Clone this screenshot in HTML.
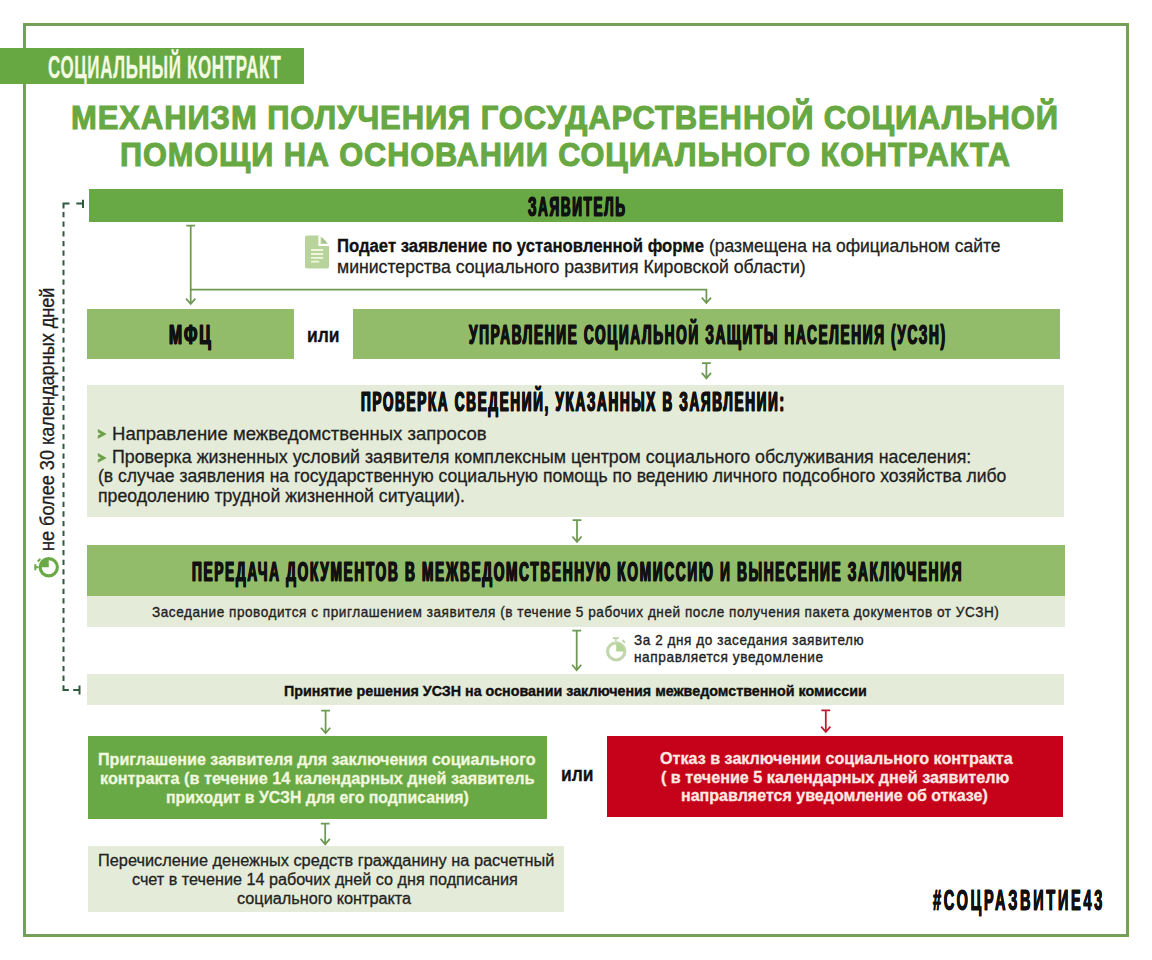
<!DOCTYPE html>
<html><head><meta charset="utf-8"><style>
html,body{margin:0;padding:0;background:#fff;}
body{width:1152px;height:960px;position:relative;overflow:hidden;font-family:"Liberation Sans",sans-serif;}
.t{position:absolute;white-space:nowrap;transform-origin:0 0;}
.b{position:absolute;}
.ov{position:absolute;left:0;top:0;}
#frame{position:absolute;left:23px;top:23px;width:1106px;height:914px;box-sizing:border-box;border:3px solid #74a05c;}
#lbl{position:absolute;left:0;top:48px;width:304px;height:35.5px;background:#67a843;}
#vert{position:absolute;white-space:nowrap;font-size:19.5px;line-height:19.5px;color:#1e1e1e;transform-origin:0 0;-webkit-text-stroke:0.3px #1e1e1e;}
</style></head><body>
<div id="frame"></div>
<div id="lbl"></div>
<div class="b" style="left:89px;top:189px;width:973.5px;height:32.69999999999999px;background:#69a945"></div>
<div class="b" style="left:87px;top:308.6px;width:207px;height:50.099999999999966px;background:#92bc6a"></div>
<div class="b" style="left:352.8px;top:308.6px;width:707.2px;height:50.099999999999966px;background:#92bc6a"></div>
<div class="b" style="left:87px;top:384.5px;width:977.3px;height:132.10000000000002px;background:#e4ebd8"></div>
<div class="b" style="left:87px;top:545.2px;width:977.5px;height:50.39999999999998px;background:#92bc6a"></div>
<div class="b" style="left:87px;top:595.6px;width:977.5px;height:31.0px;background:#e4ebd8"></div>
<div class="b" style="left:87px;top:674.4px;width:977px;height:30.899999999999977px;background:#e4ebd8"></div>
<div class="b" style="left:87.5px;top:736px;width:459.29999999999995px;height:83.20000000000005px;background:#69a945"></div>
<div class="b" style="left:607px;top:736px;width:456.29999999999995px;height:80.70000000000005px;background:#c6021a"></div>
<div class="b" style="left:87.5px;top:846px;width:476.5px;height:65.79999999999995px;background:#e4ebd8"></div>
<svg class="ov" width="1152" height="960" viewBox="0 0 1152 960">
<path d="M186.29999999999998 225.5H195.1M190.7 225.5V303.4M186.1 298.6L190.7 304L195.29999999999998 298.6" stroke="#6d9952" stroke-width="1.75" fill="none" stroke-linejoin="miter"/>
<path d="M190.7 289.6H706.4V302.4M701.8 297.6L706.4 303L711 297.6" stroke="#6d9952" stroke-width="1.75" fill="none"/>
<path d="M702.0 363.2H710.8M706.4 363.2V377.7M701.8 372.90000000000003L706.4 378.3L711.0 372.90000000000003" stroke="#6d9952" stroke-width="1.75" fill="none" stroke-linejoin="miter"/>
<path d="M572.6 520H581.4M577 520V541.3M572.4 536.5L577 541.9L581.6 536.5" stroke="#6d9952" stroke-width="1.75" fill="none" stroke-linejoin="miter"/>
<path d="M572.3000000000001 630.6H581.1M576.7 630.6V669.5M572.1 664.7L576.7 670.1L581.3000000000001 664.7" stroke="#6d9952" stroke-width="1.75" fill="none" stroke-linejoin="miter"/>
<path d="M321.20000000000005 710.6H330.0M325.6 710.6V732.6M321.0 727.8000000000001L325.6 733.2L330.20000000000005 727.8000000000001" stroke="#6d9952" stroke-width="1.75" fill="none" stroke-linejoin="miter"/>
<path d="M821.4 710.3H830.1999999999999M825.8 710.3V731.4M821.1999999999999 726.6L825.8 732L830.4 726.6" stroke="#c0182e" stroke-width="1.75" fill="none" stroke-linejoin="miter"/>
<path d="M320.8 823.7H329.59999999999997M325.2 823.7V843.6999999999999M320.59999999999997 838.9L325.2 844.3L329.8 838.9" stroke="#6d9952" stroke-width="1.75" fill="none" stroke-linejoin="miter"/>
<g stroke="#2e5a3e" stroke-width="2" fill="none">
<path d="M63.5 211.9V681.5" stroke-dasharray="5.3 4.36"/>
<path d="M63.5 208.5V203.6H69.5M76.3 203.6H83M83 199.8V208"/>
<path d="M63.5 685.2V690H68.8M73.2 690H79.5M79.5 685.6V694.5"/>
</g>
<!-- doc icon -->
<g>
<path d="M307 235.5H319.5L329 245V266.5Q329 268.5 327 268.5H307Q305 268.5 305 266.5V237.5Q305 235.5 307 235.5Z" fill="#b8d39c"/>
<path d="M319.5 235.5V245H329" fill="none" stroke="#fff" stroke-width="2.2"/>
<path d="M321.8 237.3V242.8H327.3Z" fill="#a9bf94"/>
<g stroke="#eef7dc" stroke-width="1.8"><path d="M311 250H323.2M311 254H323.2M311 257.9H323.2M311 261.6H319.2"/></g>
</g>
<!-- stopwatch icon right -->
<g>
<circle cx="616.2" cy="651.4" r="8.6" fill="none" stroke="#c3d6b0" stroke-width="3.2"/>
<path d="M616.2 651.4V643.2A8.2 8.2 0 0 1 624.4 651.4Z" fill="#b3d596"/>
<path d="M612.8 637.9H618.8M615.8 638V641" stroke="#c3d6b0" stroke-width="2"/>
<path d="M622.3 640L625 642.7" stroke="#c3d6b0" stroke-width="2"/>
</g>
<!-- stopwatch vertical -->
<g>
<circle cx="48.75" cy="567.2" r="8.6" fill="none" stroke="#6aa946" stroke-width="3.2"/>
<path d="M48.75 567.2H40.6A8.2 8.2 0 0 1 48.75 559Z" fill="#6aa946"/>
<path d="M35.3 564.2V570.2M35.5 567.2H38.6" stroke="#6aa946" stroke-width="2"/>
<path d="M37.8 561.5L40.3 559" stroke="#6aa946" stroke-width="2"/>
</g>
<!-- bullets -->
<path d="M97.8 429.1L106.7 433.9L97.8 438.7V435.5L100.8 433.9L97.8 432.3Z" fill="#6aa246"/>
<path d="M97.8 453.1L106.7 457.9L97.8 462.7V459.5L100.8 457.9L97.8 456.3Z" fill="#6aa246"/>
</svg>
<div class="t" id="label" style="left:48.05px;top:52.15px;font-size:30.6px;line-height:30.6px;font-weight:700;color:#f4fbe2;transform:scaleX(0.5533);-webkit-text-stroke:0.3px #f4fbe2;letter-spacing:1.2px">СОЦИАЛЬНЫЙ КОНТРАКТ</div>
<div class="t" id="t1" style="left:71.18px;top:99.67px;font-size:34px;line-height:34px;font-weight:700;color:#67a843;transform:scaleX(0.9111);-webkit-text-stroke:1.1px #67a843;letter-spacing:1px">МЕХАНИЗМ ПОЛУЧЕНИЯ ГОСУДАРСТВЕННОЙ СОЦИАЛЬНОЙ</div>
<div class="t" id="t2" style="left:120.19px;top:137.07px;font-size:34px;line-height:34px;font-weight:700;color:#67a843;transform:scaleX(0.9034);-webkit-text-stroke:1.1px #67a843;letter-spacing:1px">ПОМОЩИ НА ОСНОВАНИИ СОЦИАЛЬНОГО КОНТРАКТА</div>
<div class="t" id="zay" style="left:527.80px;top:192.16px;font-size:28.4px;line-height:28.4px;font-weight:700;color:#111;transform:scaleX(0.4750);-webkit-text-stroke:1.2px #111;letter-spacing:3.5px;text-shadow:0.9px 0 0 #111,-0.9px 0 0 #111">ЗАЯВИТЕЛЬ</div>
<div class="t" id="pod1b" style="left:337.41px;top:236.94px;font-size:18.8px;line-height:18.8px;font-weight:700;color:#111;transform:scaleX(0.8892);-webkit-text-stroke:0.3px #111">Подает заявление по установленной форме</div>
<div class="t" id="pod1r" style="left:708.77px;top:236.94px;font-size:18.8px;line-height:18.8px;font-weight:400;color:#222;transform:scaleX(0.9292);-webkit-text-stroke:0.3px #222">(размещена на официальном сайте</div>
<div class="t" id="pod2" style="left:337.36px;top:258.34px;font-size:18.8px;line-height:18.8px;font-weight:400;color:#222;transform:scaleX(0.9400);-webkit-text-stroke:0.3px #222">министерства социального развития Кировской области)</div>
<div class="t" id="mfc" style="left:169.24px;top:320.03px;font-size:28.2px;line-height:28.2px;font-weight:700;color:#111;transform:scaleX(0.5560);-webkit-text-stroke:1.2px #111;letter-spacing:3.5px;text-shadow:0.9px 0 0 #111,-0.9px 0 0 #111">МФЦ</div>
<div class="t" id="ili1" style="left:307.37px;top:323.77px;font-size:21px;line-height:21px;font-weight:700;color:#111;transform:scaleX(0.8324);-webkit-text-stroke:0.3px #111">или</div>
<div class="t" id="uszn" style="left:468.88px;top:320.46px;font-size:28.4px;line-height:28.4px;font-weight:700;color:#111;transform:scaleX(0.4789);-webkit-text-stroke:1.2px #111;letter-spacing:3.5px;text-shadow:0.9px 0 0 #111,-0.9px 0 0 #111">УПРАВЛЕНИЕ СОЦИАЛЬНОЙ ЗАЩИТЫ НАСЕЛЕНИЯ (УСЗН)</div>
<div class="t" id="prov" style="left:361.22px;top:387.03px;font-size:28.2px;line-height:28.2px;font-weight:700;color:#111;transform:scaleX(0.4796);-webkit-text-stroke:1.2px #111;letter-spacing:3.5px;text-shadow:0.9px 0 0 #111,-0.9px 0 0 #111">ПРОВЕРКА СВЕДЕНИЙ, УКАЗАННЫХ В ЗАЯВЛЕНИИ:</div>
<div class="t" id="b1" style="left:111.62px;top:423.57px;font-size:19px;line-height:19px;font-weight:400;color:#1e1e1e;transform:scaleX(0.9754);-webkit-text-stroke:0.3px #1e1e1e">Направление межведомственных запросов</div>
<div class="t" id="b2" style="left:111.66px;top:446.97px;font-size:19px;line-height:19px;font-weight:400;color:#1e1e1e;transform:scaleX(0.9364);-webkit-text-stroke:0.3px #1e1e1e">Проверка жизненных условий заявителя комплексным центром социального обслуживания населения:</div>
<div class="t" id="b3" style="left:97.58px;top:466.37px;font-size:19px;line-height:19px;font-weight:400;color:#1e1e1e;transform:scaleX(0.9246);-webkit-text-stroke:0.3px #1e1e1e">(в случае заявления на государственную социальную помощь по ведению личного подсобного хозяйства либо</div>
<div class="t" id="b4" style="left:98.07px;top:485.57px;font-size:19px;line-height:19px;font-weight:400;color:#1e1e1e;transform:scaleX(0.9311);-webkit-text-stroke:0.3px #1e1e1e">преодолению трудной жизненной ситуации).</div>
<div class="t" id="per" style="left:191.52px;top:556.76px;font-size:28.4px;line-height:28.4px;font-weight:700;color:#111;transform:scaleX(0.4815);-webkit-text-stroke:1.2px #111;letter-spacing:3.5px;text-shadow:0.9px 0 0 #111,-0.9px 0 0 #111">ПЕРЕДАЧА ДОКУМЕНТОВ В МЕЖВЕДОМСТВЕННУЮ КОМИССИЮ И ВЫНЕСЕНИЕ ЗАКЛЮЧЕНИЯ</div>
<div class="t" id="zas" style="left:152.30px;top:603.83px;font-size:15px;line-height:15px;font-weight:400;color:#222;transform:scaleX(0.9046);-webkit-text-stroke:0.35px #222;letter-spacing:0.6px">Заседание проводится с приглашением заявителя (в течение 5 рабочих дней после получения пакета документов от УСЗН)</div>
<div class="t" id="za1" style="left:634.15px;top:633.40px;font-size:14.2px;line-height:14.2px;font-weight:400;color:#222;transform:scaleX(0.9533);-webkit-text-stroke:0.35px #222;letter-spacing:0.6px">За 2 дня до заседания заявителю</div>
<div class="t" id="za2" style="left:634.14px;top:650.40px;font-size:14.2px;line-height:14.2px;font-weight:400;color:#222;transform:scaleX(0.9631);-webkit-text-stroke:0.35px #222;letter-spacing:0.6px">направляется уведомление</div>
<div class="t" id="prin" style="left:284.07px;top:683.06px;font-size:15.4px;line-height:15.4px;font-weight:700;color:#111;transform:scaleX(0.9289);-webkit-text-stroke:0.4px #111">Принятие решения УСЗН на основании заключения межведомственной комиссии</div>
<div class="t" id="g1" style="left:98.14px;top:752.03px;font-size:16.8px;line-height:16.8px;font-weight:700;color:#f1f8df;transform:scaleX(0.9604);-webkit-text-stroke:0.3px #f1f8df">Приглашение заявителя для заключения социального</div>
<div class="t" id="g2" style="left:99.63px;top:771.13px;font-size:16.8px;line-height:16.8px;font-weight:700;color:#f1f8df;transform:scaleX(0.9669);-webkit-text-stroke:0.3px #f1f8df">контракта (в течение 14 календарных дней заявитель</div>
<div class="t" id="g3" style="left:165.86px;top:790.23px;font-size:16.8px;line-height:16.8px;font-weight:700;color:#f1f8df;transform:scaleX(0.9436);-webkit-text-stroke:0.3px #f1f8df">приходит в УСЗН для его подписания)</div>
<div class="t" id="ili2" style="left:560.87px;top:762.57px;font-size:21px;line-height:21px;font-weight:700;color:#111;transform:scaleX(0.8297);-webkit-text-stroke:0.3px #111">или</div>
<div class="t" id="r1" style="left:660.03px;top:750.81px;font-size:16.7px;line-height:16.7px;font-weight:700;color:#fbe8e2;transform:scaleX(0.9665);-webkit-text-stroke:0.3px #fbe8e2">Отказ в заключении социального контракта</div>
<div class="t" id="r2" style="left:661.03px;top:769.81px;font-size:16.7px;line-height:16.7px;font-weight:700;color:#fbe8e2;transform:scaleX(0.9682);-webkit-text-stroke:0.3px #fbe8e2">( в течение 5 календарных дней заявителю</div>
<div class="t" id="r3" style="left:681.04px;top:788.01px;font-size:16.7px;line-height:16.7px;font-weight:700;color:#fbe8e2;transform:scaleX(0.9610);-webkit-text-stroke:0.3px #fbe8e2">направляется уведомление об отказе)</div>
<div class="t" id="f1" style="left:97.76px;top:851.71px;font-size:17.3px;line-height:17.3px;font-weight:400;color:#222;transform:scaleX(0.9447);-webkit-text-stroke:0.3px #222">Перечисление денежных средств гражданину на расчетный</div>
<div class="t" id="f2" style="left:132.26px;top:870.81px;font-size:17.3px;line-height:17.3px;font-weight:400;color:#222;transform:scaleX(0.9366);-webkit-text-stroke:0.3px #222">счет в течение 14 рабочих дней со дня подписания</div>
<div class="t" id="f3" style="left:237.46px;top:890.21px;font-size:17.3px;line-height:17.3px;font-weight:400;color:#222;transform:scaleX(0.9395);-webkit-text-stroke:0.3px #222">социального контракта</div>
<div class="t" id="hash" style="left:933.20px;top:884.54px;font-size:30.2px;line-height:30.2px;font-weight:700;color:#111;transform:scaleX(0.4831);-webkit-text-stroke:0.8px #111;letter-spacing:5.5px;text-shadow:0.4px 0 0 #111,-0.4px 0 0 #111">#СОЦРАЗВИТИЕ43</div>
<div id="vert" style="left:37.89px;top:550.63px;transform:rotate(-90deg) scaleX(0.9280)">не более 30 календарных дней</div>
</body></html>
